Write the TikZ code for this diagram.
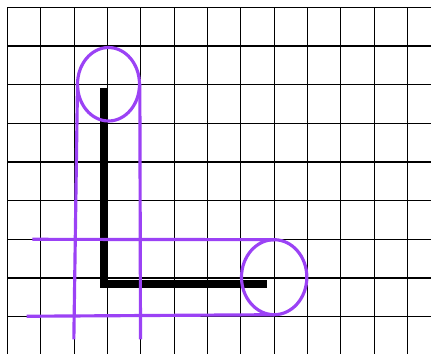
\documentclass[tikz,border=0pt]{standalone}
\usetikzlibrary{calc}
\tikzset{
	gridline/.style = {black, line width=1pt},
	bone/.style = {black, line width=6.4pt, line join=miter},
	loop/.style = {xviolet, line width=2.7pt},
}
\definecolor{xviolet}{HTML}{9B42F5}

\begin{document}
\begin{tikzpicture}[x=1cm, y=-1.16cm]
	\useasboundingbox (-0.225,-0.189) rectangle (12.705,8.966);
	% grid
	\foreach \i in {0,...,12} \draw[gridline] (\i,0) -- (\i,8.966);
	\foreach \j in {0,...,8} \draw[gridline] (0,\j) -- (12.705,\j);
	% the L
	\coordinate (tip) at (2.9,2.08);
	\coordinate (knee) at (2.9,7.15);
	\coordinate (toe) at (7.79,7.15);
	\draw[bone] (tip) -- (knee) -- (toe);
	% loops
	\coordinate (top) at (3.03,1.99);
	\coordinate (right) at (8,6.98);
	\draw[loop] (top) ellipse [x radius=0.93, y radius=0.95];
	\draw[loop] (right) ellipse [x radius=0.98, y radius=0.97];
	\draw[loop] ($(top)+(-0.93,0)$) -- (1.99,8.59);
	\draw[loop] ($(top)+(0.94,0)$) -- (3.99,8.59);
	\draw[loop] (0.745,6.0) -- ($(right)+(0,-0.97)$);
	\draw[loop] (0.576,7.99) -- ($(right)+(0,0.97)$);
\end{tikzpicture}
\end{document}
